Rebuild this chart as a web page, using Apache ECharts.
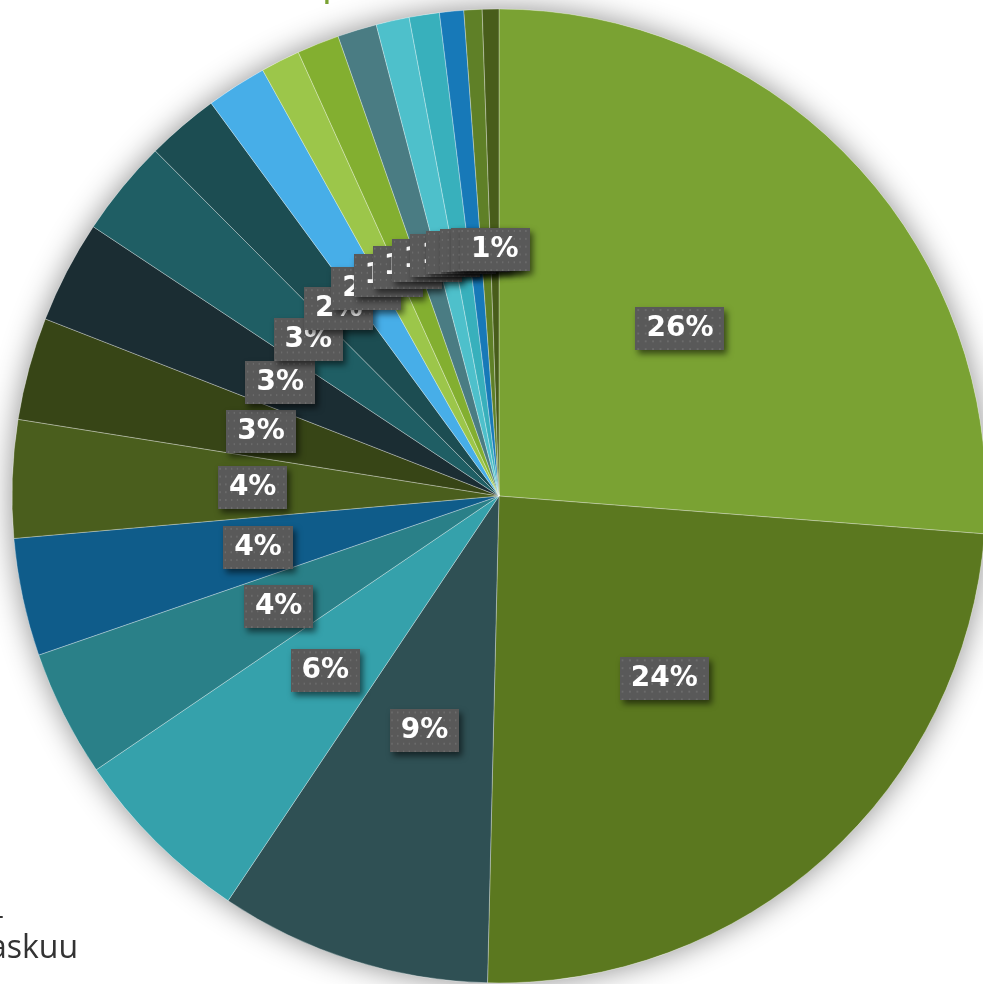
<!DOCTYPE html>
<html>
<head>
<meta charset="utf-8">
<script src="https://cdn.jsdelivr.net/npm/echarts@6/dist/echarts.min.js"></script>
<style>
  html, body { margin: 0; padding: 0; background: #fff; }
  #chart { width: 983px; height: 984px; }
</style>
</head>
<body>
<div id="chart"></div>
<script>
// slice values, clockwise from 12 o'clock
const sliceValues = [26.2, 24.1, 9.0, 6.1, 4.2, 3.9, 3.9, 3.4, 3.4, 3.2, 2.4, 2.0, 1.3, 1.4, 1.3, 1.1, 1.0, 0.8, 0.6, 0.55];
const sliceColors = ['#7AA233', '#5B781F', '#2F5054', '#35A1AB', '#2A8088', '#0F5C8A', '#4A5E1D', '#374516',
  '#1B2D33', '#1F5E64', '#1C4D52', '#47AEE8', '#9CC64A', '#83AF30', '#4A7C83', '#4EC0CB', '#38B0BC', '#1779B8',
  '#5F8027', '#485D1A'];

const total = sliceValues.reduce((a, b) => a + b, 0);

// dotted grey label background
const pat = document.createElement('canvas');
pat.width = 96; pat.height = 44;
const pc = pat.getContext('2d');
pc.fillStyle = '#595959';
pc.fillRect(0, 0, 96, 44);
pc.fillStyle = '#6b6b6b';
for (let y = 2; y < 44; y += 8) {
  for (let x = 2; x < 96; x += 8) pc.fillRect(x, y, 2, 2);
}

const chart = echarts.init(document.getElementById('chart'));
const center = [499, 496];
const R = 487;

chart.setOption({
  animation: false,
  graphic: [
    { type: 'text', left: 322, top: -30, silent: true,
      style: { text: 'p', fill: '#7AA233', font: '36px "DejaVu Sans"' } },
    { type: 'text', right: 905, top: 933, silent: true,
      style: { text: 'marraskuu', fill: '#333333', font: '32px "Open Sans"' } },
    { type: 'text', right: 979, top: 906, silent: true,
      style: { text: '-', fill: '#333333', font: '24px "DejaVu Sans"' } }
  ],
  series: [
    {
      type: 'pie', silent: true, center: center, radius: R, z: 1,
      label: { show: false }, labelLine: { show: false },
      itemStyle: { color: '#ffffff', shadowBlur: 30, shadowColor: 'rgba(0,0,0,0.45)' },
      data: [{ value: 1 }]
    },
    {
      type: 'pie', center: center, radius: R, startAngle: 90, clockwise: true, z: 2,
      avoidLabelOverlap: false,
      minShowLabelAngle: 0,
      labelLayout: { hideOverlap: false, moveOverlap: false },
      data: sliceValues.map((v, i) => ({ value: v, itemStyle: { color: sliceColors[i] } })),
      itemStyle: { borderColor: 'rgba(255,255,255,0.3)', borderWidth: 1 },
      labelLine: { show: false },
      label: {
        show: true,
        position: 'inside',
        formatter: p => Math.round(p.value / total * 100) + '%',
        color: '#ffffff',
        fontFamily: 'DejaVu Sans',
        fontWeight: 'bold',
        fontSize: 28,
        padding: [8, 11, 7, 11],
        backgroundColor: { image: pat },
        shadowColor: 'rgba(0,0,0,0.55)',
        shadowBlur: 6,
        shadowOffsetX: 3,
        shadowOffsetY: 4
      }
    }
  ]
});
</script>
</body>
</html>
